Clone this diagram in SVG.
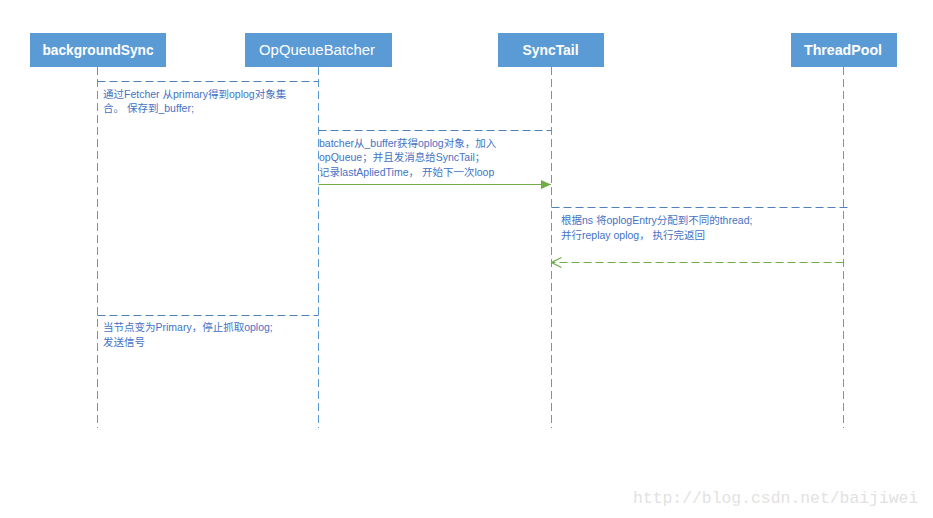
<svg xmlns="http://www.w3.org/2000/svg" width="933" height="518" viewBox="0 0 933 518">
<style>
.box{fill:#5b9bd5}
.hdr{fill:#fff;font-family:"Liberation Sans","Noto Sans",sans-serif;font-size:14px;text-anchor:middle}
.b{font-weight:bold}
.life{stroke:#5b9bd5;stroke-width:1;stroke-dasharray:8 4;fill:none}
.msg{stroke:#4f81bd;stroke-width:1;stroke-dasharray:8 4;fill:none}
.txt{fill:#4472c4;font-family:"Liberation Sans","Noto Sans CJK SC",sans-serif;font-size:10.5px}
.green{stroke:#70ad47;stroke-width:1.2;fill:none}
.wm{fill:#e2e2e2;font-family:"Liberation Mono",monospace;font-size:16.4px}
</style>
<defs>
<marker id="fill" markerWidth="10" markerHeight="9" refX="10" refY="4.5" orient="auto" markerUnits="userSpaceOnUse">
<path d="M0,0 L10,4.5 L0,9 Z" fill="#70ad47"/>
</marker>
<marker id="open" markerWidth="12" markerHeight="12" refX="11" refY="6" orient="auto" markerUnits="userSpaceOnUse">
<path d="M1,1 L11,6 L1,11" fill="none" stroke="#70ad47" stroke-width="1.2"/>
</marker>
</defs>
<rect width="933" height="518" fill="#fff"/>

<g id="backgroundSync">
<rect class="box" x="30" y="33" width="136" height="34"/>
<text class="hdr b" x="98" y="55" textLength="111" lengthAdjust="spacingAndGlyphs">backgroundSync</text>
<line class="life" x1="97.5" y1="67" x2="97.5" y2="428"/>
</g>
<g id="OpQueueBatcher">
<rect class="box" x="245" y="33" width="147" height="34"/>
<text class="hdr" x="317" y="55" textLength="116" lengthAdjust="spacingAndGlyphs">OpQueueBatcher</text>
<line class="life" x1="318.5" y1="67" x2="318.5" y2="428"/>
</g>
<g id="SyncTail">
<rect class="box" x="498" y="33" width="106" height="34"/>
<text class="hdr b" x="550.5" y="55" textLength="56" lengthAdjust="spacingAndGlyphs">SyncTail</text>
<line class="life" x1="551.5" y1="67" x2="551.5" y2="428"/>
</g>
<g id="ThreadPool">
<rect class="box" x="791" y="33" width="106" height="34"/>
<text class="hdr b" x="843" y="55" textLength="78" lengthAdjust="spacingAndGlyphs">ThreadPool</text>
<line class="life" x1="843.5" y1="67" x2="843.5" y2="428"/>
</g>

<g id="connectors">
<line class="msg" x1="97.5" y1="81.5" x2="318.5" y2="81.5"/>
<line class="msg" x1="318.5" y1="130.5" x2="551.5" y2="130.5"/>
<line class="green" x1="318.5" y1="184.5" x2="551" y2="184.5" marker-end="url(#fill)"/>
<line class="msg" x1="551.5" y1="207.5" x2="851" y2="207.5"/>
<line class="green" x1="843.5" y1="262.5" x2="551.5" y2="262.5" stroke-dasharray="8 4" marker-end="url(#open)"/>
<line class="msg" x1="97.5" y1="315.5" x2="318.5" y2="315.5"/>
</g>

<g id="labels">
<text class="txt" x="103" y="98">通过Fetcher 从primary得到oplog对象集</text>
<text class="txt" x="103" y="112">合。 保存到_buffer;</text>
<text class="txt" x="319" y="147">batcher从_buffer获得oplog对象，加入</text>
<text class="txt" x="319" y="161">opQueue；并且发消息给SyncTail；</text>
<text class="txt" x="319" y="176">记录lastApliedTime， 开始下一次loop</text>
<text class="txt" x="561" y="224">根据ns 将oplogEntry分配到不同的thread;</text>
<text class="txt" x="561" y="239">并行replay oplog， 执行完返回</text>
<text class="txt" x="103" y="331">当节点变为Primary，停止抓取oplog;</text>
<text class="txt" x="103" y="346">发送信号</text>
</g>

<text class="wm" x="633" y="503">http://blog.csdn.net/baijiwei</text>
</svg>
